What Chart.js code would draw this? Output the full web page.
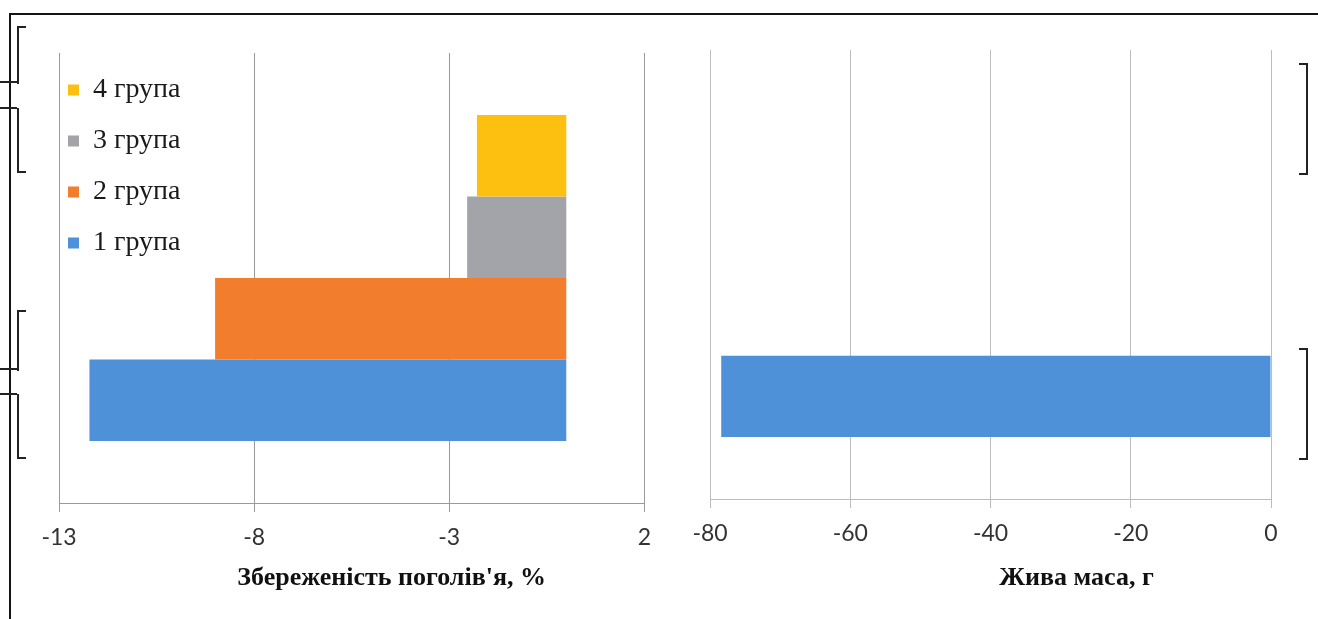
<!DOCTYPE html>
<html>
<head>
<meta charset="utf-8">
<script src="https://cdn.jsdelivr.net/npm/chart.js@4.4.1/dist/chart.umd.min.js"></script>
<style>
  html, body { margin: 0; padding: 0; background: #fff; }
  body { width: 1318px; height: 619px; position: relative; overflow: hidden; }
  #frame { position: absolute; left: 9px; top: 13px; width: 1320px; height: 620px;
           border-top: 2px solid #151515; border-left: 2px solid #151515; }
  .box { position: absolute; top: 0; height: 619px; }
  #left { left: 0; width: 663px; }
  #right { left: 660px; width: 658px; }
  /* bracket marks left over from the scanned page */
  .br { position: absolute; border: 0 solid #222; }
  .bl-top { border-left-width: 2px; border-top-width: 2px; }
  .bl-bot { border-left-width: 2px; border-bottom-width: 2px; }
  .stub { position: absolute; left: 0; width: 17px; height: 0; border-top: 2px solid #222; }
  .br-right { border-right-width: 2px; border-top-width: 2px; border-bottom-width: 2px; }
</style>
</head>
<body>
<div id="frame"></div>
<div class="br bl-top" style="left:17px;top:26px;width:7px;height:56px"></div>
<div class="stub" style="top:81px"></div>
<div class="stub" style="top:107px"></div>
<div class="br bl-bot" style="left:17px;top:108px;width:7px;height:63px"></div>
<div class="br bl-top" style="left:17px;top:310px;width:7px;height:59px"></div>
<div class="stub" style="top:368px"></div>
<div class="stub" style="top:393px"></div>
<div class="br bl-bot" style="left:17px;top:394px;width:7px;height:63px"></div>
<div class="br br-right" style="left:1299px;top:63px;width:7px;height:108px"></div>
<div class="br br-right" style="left:1299px;top:348px;width:7px;height:108px"></div>
<div class="box" id="left"><canvas id="survivalChart"></canvas></div>
<div class="box" id="right"><canvas id="weightChart"></canvas></div>
<script>
// groups listed top to bottom, as in the legend
const groups = ['4 група', '3 група', '2 група', '1 група'];
const survivalValues = [-2.29, -2.54, -9.0, -12.22];
const weightValues = [null, null, null, -78.4];
const survivalTicks = [-13, -8, -3, 2];
const weightTicks = [-80, -60, -40, -20, 0];

const palette = ['#fdbf10', '#a3a4a9', '#f27d2d', '#4f91d8'];
const tickFont = {family: 'Lato', size: 23};
const serif = 'Liberation Serif';

// axis title drawn under the plot, shifted like in the original
const axisTitle = {
  id: 'axisTitle',
  afterDraw(chart, args, opts) {
    const {ctx, chartArea} = chart;
    ctx.save();
    ctx.font = 'bold 26px "' + serif + '"';
    ctx.fillStyle = '#111';
    ctx.textAlign = 'center';
    ctx.textBaseline = 'middle';
    ctx.fillText(opts.text, (chartArea.left + chartArea.right) / 2 + opts.shift, chartArea.bottom + opts.gap);
    ctx.restore();
  }
};

const makeDatasets = (values) => groups.map((g, i) => ({
  label: g,
  data: [values[i]],
  backgroundColor: palette[i],
  borderWidth: 0,
  barPercentage: 1,
  categoryPercentage: 0.724
}));

const xScale = (ticksList, gridColor, height) => ({
  type: 'linear',
  min: ticksList[0],
  max: ticksList[ticksList.length - 1],
  afterBuildTicks: s => { s.ticks = ticksList.map(v => ({value: v})); },
  afterFit: s => { s.height = height; },
  ticks: {font: tickFont, color: '#333', padding: 12},
  grid: {color: gridColor, tickLength: 9},
  border: {color: gridColor}
});

new Chart(document.getElementById('survivalChart'), {
  type: 'bar',
  data: {labels: [''], datasets: makeDatasets(survivalValues)},
  options: {
    indexAxis: 'y',
    responsive: true,
    maintainAspectRatio: false,
    animation: false,
    layout: {padding: {left: 59, right: 12, top: 53, bottom: 0}},
    scales: {
      x: xScale(survivalTicks, '#9a9a9a', 116),
      y: {display: false}
    },
    plugins: {
      tooltip: {enabled: false},
      legend: {
        position: 'chartArea',
        align: 'start',
        fullSize: false,
        title: {display: true, text: '', font: {size: 1, lineHeight: 1}, padding: {top: 66, bottom: 0}},
        labels: {
          boxWidth: 11,
          boxHeight: 11,
          padding: 9,
          color: '#1a1a1a',
          font: {family: serif, size: 28, lineHeight: 1.5},
          generateLabels: chart => Chart.defaults.plugins.legend.labels.generateLabels(chart)
            .map(l => Object.assign(l, {text: [l.text]}))
        }
      },
      axisTitle: {text: "Збереженість поголів'я, %", shift: 40, gap: 75}
    }
  },
  plugins: [axisTitle]
});

new Chart(document.getElementById('weightChart'), {
  type: 'bar',
  data: {labels: [''], datasets: makeDatasets(weightValues)},
  options: {
    indexAxis: 'y',
    responsive: true,
    maintainAspectRatio: false,
    animation: false,
    layout: {padding: {left: 50, right: 47, top: 50, bottom: 0}},
    scales: {
      x: xScale(weightTicks, '#bdbdbd', 120),
      y: {display: false}
    },
    plugins: {
      tooltip: {enabled: false},
      legend: {display: false},
      axisTitle: {text: 'Жива маса, г', shift: 86, gap: 79}
    }
  },
  plugins: [axisTitle]
});
</script>
</body>
</html>
